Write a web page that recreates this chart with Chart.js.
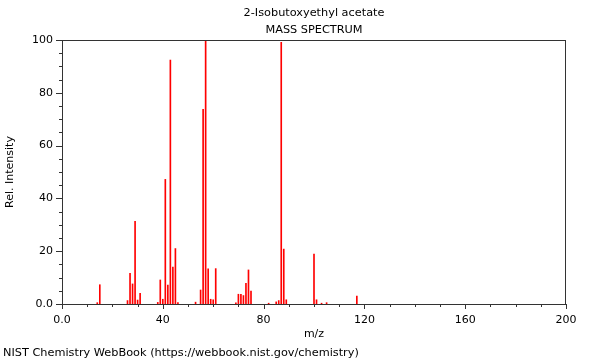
<!DOCTYPE html>
<html>
<head>
<meta charset="utf-8">
<script src="https://cdn.jsdelivr.net/npm/chart.js@4.4.1/dist/chart.umd.min.js"></script>
<style>
  html, body { margin: 0; padding: 0; background: #fff; }
  #wrap { width: 600px; height: 360px; }
</style>
</head>
<body>
<div id="wrap"><canvas id="c" width="600" height="360"></canvas></div>
<script>
// peaks (m/z, relative intensity)
const mz = [14, 15, 26, 27, 28, 29, 30, 31, 38, 39, 40, 41, 42, 43, 44, 45, 46,
            53, 55, 56, 57, 58, 59, 60, 61, 69, 70, 71, 72, 73, 74, 75,
            82, 85, 86, 87, 88, 89, 100, 101, 103, 105, 117];
const intensity = [0.5, 7.3, 1.3, 11.6, 7.6, 31.3, 1.5, 4.0, 0.6, 9.1, 1.8, 47.2, 7.2, 92.4, 14.0, 21.0, 0.5,
                   0.7, 5.3, 73.7, 100, 13.3, 1.8, 1.6, 13.4, 0.4, 3.7, 3.7, 3.2, 7.8, 12.9, 4.9,
                   0.3, 0.8, 1.3, 99.1, 20.8, 1.6, 18.9, 1.6, 0.3, 0.5, 3.0];

const xTicks = [0, 40, 80, 120, 160, 200];
const yTicks = [0, 20, 40, 60, 80, 100];

const compoundName = '2-Isobutoxyethyl acetate';
const chartTitle = 'MASS SPECTRUM';
const footerText = 'NIST Chemistry WebBook (https://webbook.nist.gov/chemistry)';

const FONT = 'DejaVu Sans';
const AXIS_COLOR = '#333';

// frame, major/minor ticks, titles and footer
const decorations = {
  id: 'decorations',
  afterDraw(chart) {
    const ctx = chart.ctx;
    const a = chart.chartArea;
    const xs = chart.scales.x, ys = chart.scales.y;
    ctx.save();
    ctx.strokeStyle = AXIS_COLOR;
    ctx.lineWidth = 1;
    ctx.strokeRect(Math.round(a.left) + 0.5, Math.round(a.top) + 0.5,
                   Math.round(a.right - a.left) - 1, Math.round(a.bottom - a.top));

    ctx.beginPath();
    for (let v = 0; v <= 200; v += 10) {
      const px = Math.round(xs.getPixelForValue(v)) + 0.5;
      const len = xTicks.includes(v) ? 5 : 3;
      ctx.moveTo(px, a.bottom);
      ctx.lineTo(px, a.bottom + len);
    }
    for (let v = 0; v <= 100; v += 5) {
      const py = Math.round(ys.getPixelForValue(v)) + 0.5;
      const len = yTicks.includes(v) ? 6 : 3;
      ctx.moveTo(a.left - len, py);
      ctx.lineTo(a.left, py);
    }
    ctx.stroke();

    ctx.fillStyle = '#000';
    ctx.font = '11.3px "' + FONT + '"';
    ctx.textAlign = 'center';
    ctx.textBaseline = 'middle';
    const cx = (a.left + a.right) / 2;
    ctx.fillText(compoundName, cx, 13);
    ctx.fillText(chartTitle, cx, 30);
    ctx.textAlign = 'left';
    ctx.fillText(footerText, 3, 353);
    ctx.restore();
  }
};

const tickLabel = v => (v === 0 ? '0.0' : String(v));

new Chart(document.getElementById('c'), {
  type: 'bar',
  data: {
    datasets: [{
      data: mz.map((m, i) => ({ x: m, y: intensity[i] })),
      backgroundColor: 'rgb(255,0,0)',
      borderWidth: 0,
      barThickness: 1
    }]
  },
  options: {
    responsive: false,
    animation: false,
    layout: { padding: { left: 0, top: 40, right: 34, bottom: 15 } },
    plugins: { legend: { display: false }, tooltip: { enabled: false }, title: { display: false } },
    scales: {
      x: {
        type: 'linear',
        offset: false,
        min: 0, max: 200,
        afterFit(scale) { scale.height = 41; },
        afterBuildTicks(scale) { scale.ticks = xTicks.map(v => ({ value: v })); },
        ticks: { callback: tickLabel, color: '#000', font: { family: FONT, size: 11 }, padding: 10, maxRotation: 0 },
        grid: { display: false, drawTicks: false, offset: false },
        border: { display: false },
        title: { display: true, text: 'm/z', color: '#000', font: { family: FONT, size: 11 } }
      },
      y: {
        min: 0, max: 100,
        afterFit(scale) { scale.width = 62; },
        afterBuildTicks(scale) { scale.ticks = yTicks.map(v => ({ value: v })); },
        ticks: { callback: tickLabel, color: '#000', font: { family: FONT, size: 11 }, padding: 9 },
        grid: { display: false, drawTicks: false },
        border: { display: false },
        title: { display: true, text: 'Rel. Intensity', color: '#000', font: { family: FONT, size: 11 } }
      }
    }
  },
  plugins: [decorations]
});
</script>
</body>
</html>
